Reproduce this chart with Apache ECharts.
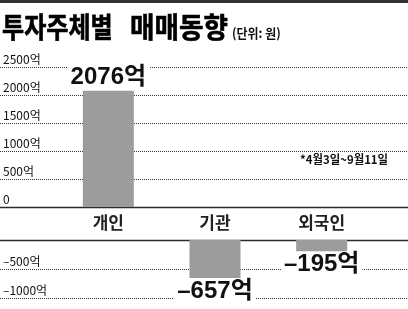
<!DOCTYPE html>
<html><head><meta charset="utf-8">
<script src="https://cdn.jsdelivr.net/npm/echarts@6/dist/echarts.min.js"></script>
<style>html,body{margin:0;padding:0;background:#fff}#c{width:408px;height:309px}</style>
</head><body><div id="c"></div>
<script>
const categories = ['개인', '기관', '외국인'];
const netTrade = [2076, -657, -195];
const posAxis = { min: 0, max: 2500, interval: 500 };
const negAxis = { min: -1000, max: 0, interval: 500 };
const titleMain = ['투자주체별', '매매동향'];
const unitText = '(단위: 원)';
const noteText = '*4월3일~9월11일';

const KR = "'Noto Sans CJK KR', sans-serif";
const NUM = "'Liberation Sans Narrow', 'Liberation Sans', 'Noto Sans CJK KR', sans-serif";
const fmtAxis = v => v === 0 ? '0' : (v < 0 ? '–' + Math.abs(v) : String(v)) + '억';
const fmtVal = v => (v < 0 ? '–' + Math.abs(v) : String(v)) + '억';
const dotted = { type: [1, 1], dashOffset: 0, color: '#333', width: 1 };
const axisLineStyle = { show: true, onZero: false, lineStyle: { color: '#2a2a2a', width: 1.3 } };

const chart = echarts.init(document.getElementById('c'), null, { renderer: 'canvas' });
chart.setOption({
  animation: false,
  backgroundColor: '#fff',
  textStyle: { fontFamily: KR },
  grid: [
    { left: 0, right: 0, top: 67, height: 140, containLabel: false, outerBoundsMode: 'none' },
    { left: 0, right: 0, top: 240, height: 58, containLabel: false, outerBoundsMode: 'none' },
    { left: 55, right: 33, top: 67, height: 140, containLabel: false, outerBoundsMode: 'none' },
    { left: 55, right: 33, top: 240, height: 58, containLabel: false, outerBoundsMode: 'none' }
  ],
  xAxis: [
    { gridIndex: 0, type: 'value', min: 0, max: 1, position: 'bottom', axisLine: axisLineStyle, axisTick: { show: false }, axisLabel: { show: false }, splitLine: { show: false } },
    { gridIndex: 1, type: 'value', min: 0, max: 1, position: 'top', axisLine: axisLineStyle, axisTick: { show: false }, axisLabel: { show: false }, splitLine: { show: false } },
    { gridIndex: 2, type: 'category', data: categories, axisLine: { show: false }, axisTick: { show: false },
      axisLabel: { fontSize: 17, fontWeight: 'bold', color: '#222', margin: 7, fontFamily: KR } },
    { gridIndex: 3, type: 'category', data: categories, show: false }
  ],
  yAxis: [
    { gridIndex: 0, type: 'value', min: posAxis.min, max: posAxis.max, interval: posAxis.interval,
      axisLine: { show: false }, axisTick: { show: false },
      axisLabel: { inside: true, margin: 3, verticalAlign: 'bottom', fontSize: 12, color: '#111', formatter: fmtAxis, padding: [0, 0, 2, 0] },
      splitLine: { show: true, lineStyle: dotted } },
    { gridIndex: 1, type: 'value', min: negAxis.min, max: negAxis.max, interval: negAxis.interval,
      axisLine: { show: false }, axisTick: { show: false },
      axisLabel: { inside: true, margin: 3, verticalAlign: 'bottom', fontSize: 12, color: '#111', formatter: v => v === 0 ? '' : fmtAxis(v), padding: [0, 0, 2, 0] },
      splitLine: { show: true, lineStyle: dotted } },
    { gridIndex: 2, type: 'value', min: posAxis.min, max: posAxis.max, show: false, splitLine: { show: false } },
    { gridIndex: 3, type: 'value', min: negAxis.min, max: negAxis.max, show: false, splitLine: { show: false } }
  ],
  series: [
    { type: 'bar', xAxisIndex: 2, yAxisIndex: 2, barWidth: 51,
      data: netTrade.map(v => v > 0 ? v : '-'),
      itemStyle: { color: '#9c9c9c' },
      label: { show: true, position: 'top', distance: 1, formatter: p => fmtVal(p.value),
        fontSize: 24, fontWeight: 'bold', fontFamily: NUM, color: '#111', backgroundColor: '#fff', padding: [0, 3, 0, 3] } },
    { type: 'bar', xAxisIndex: 3, yAxisIndex: 3, barWidth: 51,
      data: netTrade.map(v => v < 0 ? v : '-'),
      itemStyle: { color: '#9c9c9c' },
      label: { show: true, position: 'bottom', distance: 1, formatter: p => fmtVal(p.value),
        fontSize: 24, fontWeight: 'bold', fontFamily: NUM, color: '#111', backgroundColor: '#fff', padding: [0, 3, 0, 3] } }
  ],
  graphic: [
    { type: 'rect', shape: { x: 0, y: 0, width: 408, height: 3 }, style: { fill: '#333' } },
    { type: 'text', x: 2, y: 27, scaleX: 0.86, style: { text: titleMain[0], fontSize: 28, fontWeight: 'bold', fontFamily: KR, fill: '#000', stroke: '#000', lineWidth: 0.6, verticalAlign: 'middle' } },
    { type: 'text', x: 130, y: 27, scaleX: 0.95, style: { text: titleMain[1], fontSize: 28, fontWeight: 'bold', fontFamily: KR, fill: '#000', stroke: '#000', lineWidth: 0.6, verticalAlign: 'middle' } },
    { type: 'text', x: 232, y: 33, scaleX: 0.92, style: { text: unitText, fontSize: 13, fontWeight: 'bold', fontFamily: KR, fill: '#111', verticalAlign: 'middle' } },
    { type: 'text', x: 300, y: 159, scaleX: 0.95, style: { text: noteText, fontSize: 12, fontWeight: 'bold', fontFamily: KR, fill: '#111', verticalAlign: 'middle' } }
  ]
});
</script>
</body></html>
